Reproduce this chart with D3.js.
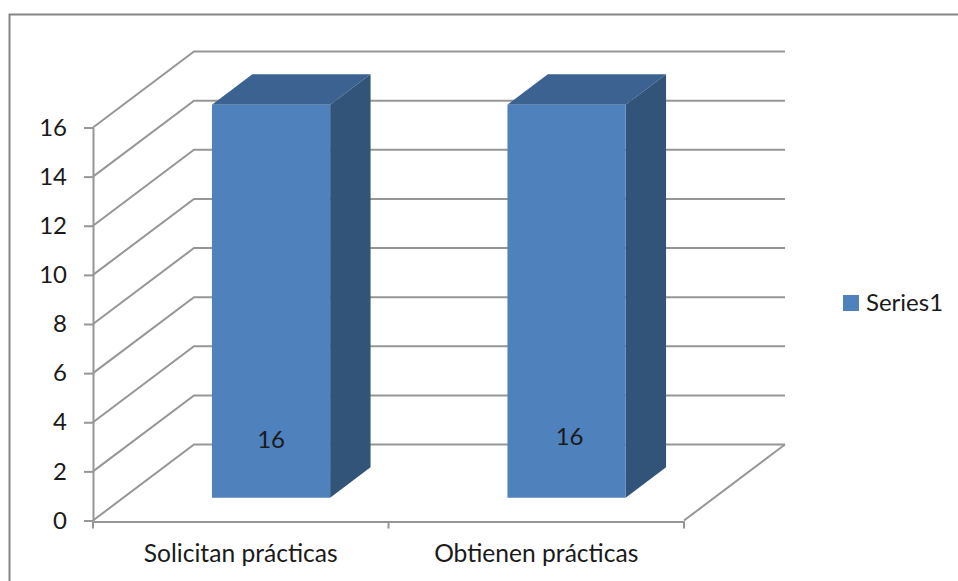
<!DOCTYPE html>
<html>
<head>
<meta charset="utf-8">
<script src="https://cdn.jsdelivr.net/npm/d3@7"></script>
<style>
  html, body { margin: 0; padding: 0; background: #fff; overflow: hidden; }
  text { font-family: Lato, "Open Sans", sans-serif; fill: #1a1a1a; }
</style>
</head>
<body>
<div class="canvas"></div>
<script>
const categories = ['Solicitan prácticas', 'Obtienen prácticas'];
const values = [16, 16];
const yTicks = [0, 2, 4, 6, 8, 10, 12, 14, 16];
const seriesName = 'Series1';

const svg = d3.select('.canvas')
    .append('svg')
    .attr('width', 958)
    .attr('height', 581)
    .style('display', 'block');

// outer chart frame, right and bottom edges are cut off in the picture
svg.append('path')
    .attr('d', 'M9.5,581V14.5H958')
    .attr('fill', 'none')
    .attr('stroke', '#868686')
    .attr('stroke-width', 2);

const y = d3.scaleLinear().domain([0, 16]).range([520.5, 127.5]);
const x = d3.scaleBand().domain(categories).range([93, 684]);

// the oblique 3d direction: 0 = front of the floor, 1 = back wall
const depthX = d3.scaleLinear().domain([0, 1]).range([0, 101]);
const depthY = d3.scaleLinear().domain([0, 1]).range([0, -76]);

const project = (px, value, depth) => [px + depthX(depth), y(value) + depthY(depth)];
const line = d3.line();

const gridColor = '#969696';
const wall = svg.append('g')
    .attr('fill', 'none')
    .attr('stroke', gridColor)
    .attr('stroke-width', 2);

// gridlines: from the axis back to the wall and then along the wall
wall.selectAll('path')
    .data(yTicks)
    .join('path')
    .attr('d', d => line([
        project(x.range()[0], d, 0),
        project(x.range()[0], d, 1),
        project(x.range()[1], d, 1)
    ]));

// floor right edge
wall.append('path')
    .attr('d', line([project(x.range()[1], 0, 0), project(x.range()[1], 0, 1)]));

const yAxis = svg.append('g')
    .attr('transform', `translate(${x.range()[0]},0)`)
    .call(d3.axisLeft(y).tickValues(yTicks).tickSize(9).tickSizeOuter(0).tickPadding(17));

const xAxis = svg.append('g')
    .attr('transform', `translate(0,${y(0) + 1})`)
    .call(d3.axisBottom(x).tickSize(0).tickPadding(23));

// category ticks sit between the bars, not under them
xAxis.selectAll('.edge')
    .data([...categories.map(c => x(c)), x.range()[1]])
    .join('line')
    .attr('class', 'edge')
    .attr('x1', d => d)
    .attr('x2', d => d)
    .attr('y1', 0)
    .attr('y2', 7);

yAxis.selectAll('text').style('font-size', '24px');
xAxis.selectAll('text').style('font-size', '24.6px');
[yAxis, xAxis].forEach(a => {
    a.selectAll('path, line').attr('stroke', gridColor).attr('stroke-width', 2);
    a.selectAll('text').attr('fill', '#1a1a1a');
});

// bars
const barFront = 0.30, barBack = 0.70, barShare = 0.40;
const bars = svg.selectAll('g.bar')
    .data(categories.map((c, i) => ({ c, v: values[i] })))
    .join('g')
    .attr('class', 'bar');

const corners = d => {
    const x0 = x(d.c) + x.bandwidth() * (1 - barShare) / 2;
    const x1 = x0 + x.bandwidth() * barShare;
    return { x0, x1 };
};

bars.append('path')
    .attr('fill', '#3c6291')
    .attr('d', d => {
        const { x0, x1 } = corners(d);
        return line([
            project(x0, d.v, barFront), project(x0, d.v, barBack),
            project(x1, d.v, barBack), project(x1, d.v, barFront)
        ]) + 'Z';
    });

bars.append('path')
    .attr('fill', '#335479')
    .attr('d', d => {
        const { x1 } = corners(d);
        return line([
            project(x1, d.v, barFront), project(x1, d.v, barBack),
            project(x1, 0, barBack), project(x1, 0, barFront)
        ]) + 'Z';
    });

bars.append('path')
    .attr('fill', '#4f81bd')
    .attr('d', d => {
        const { x0, x1 } = corners(d);
        return line([
            project(x0, d.v, barFront), project(x1, d.v, barFront),
            project(x1, 0, barFront), project(x0, 0, barFront)
        ]) + 'Z';
    });

// data labels were placed by hand in the original, so they differ a little
const labelShift = [[0, 0], [3, -3]];
bars.append('text')
    .attr('text-anchor', 'middle')
    .style('font-size', '24px')
    .attr('x', (d, i) => project(x(d.c) + x.bandwidth() / 2, 0, barFront)[0] + labelShift[i][0])
    .attr('y', (d, i) => y(2.95) + labelShift[i][1])
    .text(d => d.v);

// legend
const legend = svg.append('g').attr('transform', 'translate(843,295)');
legend.append('rect').attr('width', 16).attr('height', 16).attr('fill', '#4f81bd');
legend.append('text')
    .attr('x', 23)
    .attr('y', 16)
    .style('font-size', '24px')
    .text(seriesName);
</script>
</body>
</html>
